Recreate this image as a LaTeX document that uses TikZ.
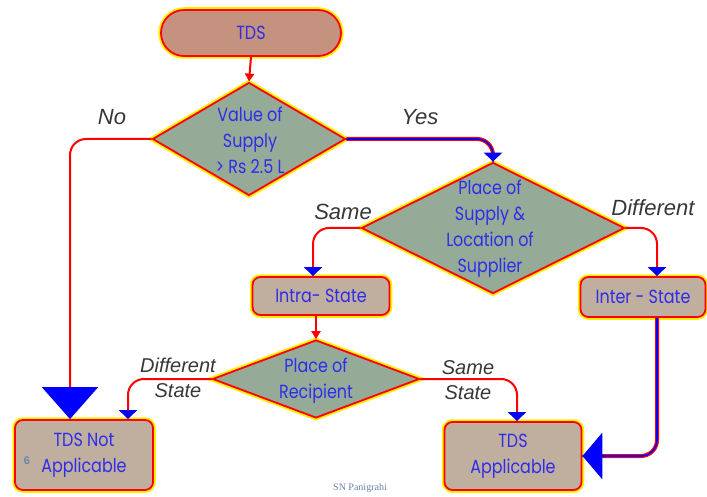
\documentclass[tikz,border=0pt]{standalone}
\usepackage{fontspec}
\setmainfont{Liberation Serif}
\newfontfamily\boxfont[FakeStretch=0.84]{Poppins}
\newfontfamily\lblfont{Liberation Sans}
\usetikzlibrary{shapes.geometric,arrows.meta}
\definecolor{txtblue}{RGB}{45,45,235}
\definecolor{termfill}{RGB}{196,146,126}
\definecolor{boxfill}{RGB}{192,174,158}
\definecolor{diafill}{RGB}{150,170,152}
\definecolor{glowyel}{RGB}{255,240,0}
\definecolor{lblgray}{RGB}{55,55,55}
\definecolor{credit}{RGB}{105,130,170}
\begin{document}
\begin{tikzpicture}[x=1pt,y=-1pt,
  glow/.style={preaction={draw=glowyel,line width=5.5pt}, draw=red, line width=1.8pt},
  btext/.style={font=\boxfont\fontsize{19}{26}\selectfont, text=txtblue, align=center},
  term/.style={glow, btext, fill=termfill, rounded corners=23pt, inner sep=0pt,
    minimum width=180pt, minimum height=46pt},
  box/.style={glow, btext, fill=boxfill, rounded corners=8pt, inner sep=0pt},
  dia/.style={glow, shape=diamond, fill=diafill, inner sep=0pt},
  dtext/.style={btext, inner sep=0pt},
  lbl/.style={font=\lblfont\itshape\fontsize{22}{25}\selectfont, text=lblgray, align=center, inner sep=0pt},
  slbl/.style={font=\lblfont\itshape\fontsize{20}{25}\selectfont, text=lblgray, align=center, inner sep=0pt},
  redline/.style={draw=red, line width=2pt, rounded corners=16pt},
  dbl/.style={draw=red, line width=4pt, rounded corners=16pt},
  dblin/.style={draw=blue, line width=1.6pt, rounded corners=16pt},
  smalltip/.style={-{Triangle[width=18pt,length=9pt,color=blue]}},
  redtip/.style={-{Triangle[width=9pt,length=8pt,color=red]}}
]
\useasboundingbox (0,0) rectangle (707,497);

% nodes
\node[term] (tds) at (251,33) {TDS};
\node[dia, minimum width=193pt, minimum height=113pt] (d1) at (249,139) {};
\node[dtext] (d1t) at (250,140) {Value of\\Supply\\> Rs 2.5 L};
\node[dia, minimum width=263pt, minimum height=131pt] (d2) at (493,228) {};
\node[dtext] (d2t) at (490,229) {Place of\\Supply \&\\Location of\\Supplier};
\node[dia, minimum width=207pt, minimum height=78pt] (d3) at (316,379) {};
\node[dtext] (d3t) at (316,381) {Place of\\Recipient};
\node[box, minimum width=137pt, minimum height=38pt] (intra) at (321,296) {Intra- State};
\node[box, minimum width=125pt, minimum height=40pt] (inter) at (643,297) {Inter - State};
\node[box, minimum width=138pt, minimum height=70pt] (na) at (84,455) {TDS Not\\Applicable};
\node[box, minimum width=137pt, minimum height=68pt] (ap) at (513,456) {TDS\\Applicable};

% labels
\node[lbl] (lno) at (112,117) {No};
\node[lbl] (lyes) at (420,117) {Yes};
\node[lbl] (lsame) at (343,212) {Same};
\node[lbl] (ldiff) at (653,208) {Different};
\node[slbl] (lds) at (178,378) {Different\\State};
\node[slbl] (lss) at (468,380) {Same\\State};
\node[font=\lblfont\fontsize{11}{12}\selectfont\bfseries, text=credit] (six) at (27,461) {6};
\node[font=\fontsize{10}{12}\selectfont, text=credit] (credit) at (360,488) {SN Panigrahi};

% connectors
\draw[redline, redtip] (tds.south) -- (d1.north);
\draw[redline, -{Triangle[width=56pt,length=32pt,color=blue]}] (d1.west) -| ([xshift=-14pt]na.north);
\draw[dbl, smalltip] (d1.east) -| (d2.north);
\draw[dblin] (d1.east) -| (d2.north);
\draw[redline, smalltip] (d2.west) -| ([xshift=-8pt]intra.north);
\draw[redline, smalltip] (d2.east) -| ([xshift=14pt]inter.north);
\draw[redline, redtip] (d3.north |- intra.south) -- (d3.north);
\draw[redline, smalltip] (d3.west) -| ([xshift=44pt]na.north);
\draw[redline, smalltip] (d3.east) -| ([xshift=4pt]ap.north);
\draw[dbl, -{Triangle[width=46pt,length=20pt,color=blue]}] ([xshift=14pt]inter.south) |- (ap.east);
\draw[dblin] ([xshift=14pt]inter.south) |- (ap.east);
\end{tikzpicture}
\end{document}
